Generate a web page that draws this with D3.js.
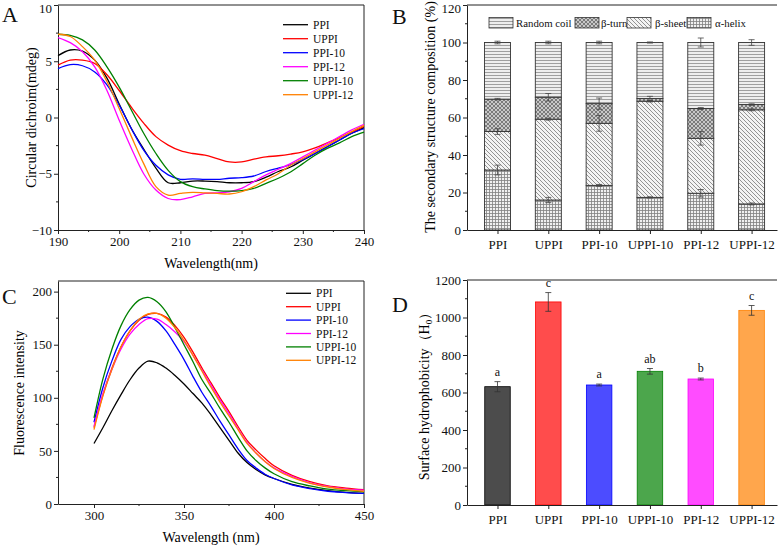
<!DOCTYPE html>
<html>
<head>
<meta charset="utf-8">
<style>
  body { margin: 0; background: #fff; }
  svg { display: block; }
  svg text { font-family: "Liberation Serif", "Times New Roman", "DejaVu Serif", serif; }
  .axis path, .axis line { stroke: #222; }
  .axis text { font-size: 13px; fill: #111; }
</style>
</head>
<body>
<div id="fig"></div>
<script src="https://d3js.org/d3.v7.min.js"></script>
<script>
// ---------- data ----------
const samples = ["PPI", "UPPI", "PPI-10", "PPI-12", "UPPI-10", "UPPI-12"];
const lineColors = ["#000000", "#ff0000", "#0000ff", "#ff00ff", "#008000", "#ff8000"];

// A: circular dichroism
const cdWave = [190, 192, 194, 196, 198, 200, 202, 204, 206, 208, 210, 212, 214, 216, 218, 220, 222, 224, 226, 228, 230, 232, 234, 236, 238, 240];
const cdPPI    = [5.5, 6.0, 5.9, 5.1, 3.5, 1.2, -1.0, -2.8, -4.5, -5.8, -5.8, -5.65, -5.65, -5.7, -5.8, -5.8, -5.7, -5.3, -4.8, -4.4, -3.8, -3.2, -2.6, -2.0, -1.4, -0.9];
const cdUPPI   = [4.65, 5.1, 5.1, 4.8, 3.8, 2.4, 0.9, -0.5, -1.7, -2.45, -2.95, -3.2, -3.35, -3.65, -3.95, -3.95, -3.7, -3.5, -3.4, -3.25, -3.05, -2.7, -2.25, -1.8, -1.3, -0.8];
const cdPPI10  = [4.35, 4.7, 4.6, 4.05, 2.9, 1.1, -1.0, -2.9, -4.25, -5.1, -5.5, -5.45, -5.5, -5.5, -5.4, -5.35, -5.2, -4.8, -4.5, -4.2, -3.75, -3.2, -2.6, -2.0, -1.4, -1.0];
const cdPPI12  = [7.1, 6.65, 5.85, 4.5, 2.4, -0.25, -2.75, -5.0, -6.45, -7.2, -7.3, -7.05, -6.75, -6.7, -6.6, -6.3, -5.7, -5.1, -4.6, -4.1, -3.5, -2.9, -2.3, -1.7, -1.1, -0.6];
const cdUPPI10 = [7.4, 7.3, 6.9, 6.0, 4.5, 2.7, 0.65, -1.4, -3.2, -4.7, -5.7, -6.15, -6.35, -6.5, -6.55, -6.5, -6.3, -5.85, -5.4, -4.85, -4.1, -3.35, -2.75, -2.25, -1.7, -1.3];
const cdUPPI12 = [7.4, 7.2, 6.3, 5.1, 3.2, 0.8, -1.7, -4.1, -6.15, -6.9, -6.75, -6.65, -6.7, -6.75, -6.8, -6.6, -6.15, -5.55, -5.0, -4.25, -3.65, -3.05, -2.45, -1.85, -1.25, -0.7];
const cdSeries = [cdPPI, cdUPPI, cdPPI10, cdPPI12, cdUPPI10, cdUPPI12];

// B: secondary structure (%), stacked bottom -> top
const barSamples = ["PPI", "UPPI", "PPI-10", "UPPI-10", "PPI-12", "UPPI-12"];
const structKeys = ["α-helix", "β-sheet", "β-turn", "Random coil"];
const alphaHelix  = [32.0, 16.0, 23.8, 17.4, 19.6, 13.9];
const betaSheet   = [20.5, 43.1, 33.1, 51.3, 29.3, 50.2];
const betaTurn    = [17.3, 11.7, 10.5, 1.4, 15.9, 2.8];
const randomCoil  = [30.2, 29.2, 32.6, 29.9, 35.2, 33.1];
const errHelix = [2.6, 1.4, 0.5, 0.3, 2.0, 0.5];
const errSheet = [1.5, 0.5, 4.2, 0.4, 3.6, 0.5];
const errTurn  = [0.4, 2.0, 3.0, 1.2, 0.5, 0.4];
const errCoil  = [0.7, 0.7, 0.7, 0.3, 2.4, 1.5];

// C: fluorescence
const flWave = [300, 305, 310, 315, 320, 325, 330, 335, 340, 345, 350, 355, 360, 365, 370, 375, 380, 385, 390, 395, 400, 410, 420, 430, 440, 450];
const flPPI    = [57, 72, 88, 103, 117, 128, 134.5, 133, 128, 121, 113, 104, 95, 84, 72, 60, 48, 39, 32.5, 27.5, 24, 18.5, 15, 12.6, 11, 10];
const flUPPI   = [72, 103, 128, 148, 163, 173, 178.5, 179.5, 176, 168, 157, 143, 128, 114, 100, 87, 73, 60, 51, 43, 36, 27, 21, 17, 15, 13.5];
const flPPI10  = [77, 110, 135, 155, 167, 174, 176, 172, 163, 150, 136, 120, 105, 92, 78, 65, 52, 41, 34, 28, 24, 18, 14.5, 12, 10.8, 10];
const flPPI12  = [73, 104, 127, 146, 160, 169, 174.5, 174, 169, 162, 153, 140, 126, 112, 98, 85, 71, 58, 48, 40, 34, 26, 20, 16.5, 14, 13];
const flUPPI10 = [81, 118, 146, 168, 183, 192, 194.5, 190.5, 181, 166, 150, 134, 117, 104, 90, 77, 63, 50, 41, 34, 28.5, 21, 17, 14, 12.5, 11.5];
const flUPPI12 = [70, 102, 127, 148, 163, 174, 179, 179.5, 175, 166, 154, 140, 125, 110, 96, 83, 70, 57, 48, 40, 33.5, 25, 19.5, 16, 13.5, 12];
const flSeries = [flPPI, flUPPI, flPPI10, flPPI12, flUPPI10, flUPPI12];

// D: surface hydrophobicity
const h0Values = [631, 1083, 640, 713, 672, 1038];
const h0Errors = [27, 50, 5, 15, 5, 26];
const h0Letters = ["a", "c", "a", "ab", "b", "c"];
const h0Colors = ["#000000", "#ff0000", "#0000ff", "#008000", "#ff00ff", "#ff8000"];

// ---------- svg ----------
const W = 779, H = 548;
const FONT = "Liberation Serif, Times New Roman, serif";
const svg = d3.select("#fig").append("svg").attr("width", W).attr("height", H);
const defs = svg.append("defs");

function styleAxis(g) {
  g.attr("font-family", FONT).attr("font-size", 13);
}

// the top tick label sits on the figure edge; nudge it so it stays inside
function nudgeTop(g, topValue) {
  g.selectAll(".tick").filter(d => d === topValue).select("text").attr("dy", "0.55em");
}

function minorTicks(g, scale, values, orient, len) {
  values.forEach(v => {
    const p = scale(v);
    if (orient === "bottom") g.append("line").attr("x1", p).attr("x2", p).attr("y1", 0).attr("y2", len);
    else g.append("line").attr("y1", p).attr("y2", p).attr("x1", 0).attr("x2", -len);
  });
  g.selectAll("line").attr("stroke", "#222");
}

function frame(x0, x1, y0, y1, right) {
  const g = svg.append("g").attr("fill", "none").attr("stroke", "#222").attr("stroke-width", 1);
  g.append("line").attr("x1", x0).attr("x2", x1).attr("y1", y0).attr("y2", y0);
  if (right) g.append("line").attr("x1", x1).attr("x2", x1).attr("y1", y0).attr("y2", y1);
}

function panelLetter(t, x, y) {
  svg.append("text").attr("x", x).attr("y", y).attr("font-size", 22).attr("fill", "#111").text(t);
}

function lineLegend(x, y0, step) {
  const g = svg.append("g");
  samples.forEach((s, i) => {
    const y = y0 + i * step;
    g.append("line").attr("x1", x).attr("x2", x + 25).attr("y1", y).attr("y2", y)
      .attr("stroke", lineColors[i]).attr("stroke-width", 1.3);
    g.append("text").attr("x", x + 30).attr("y", y + 4).attr("font-size", 11.5).attr("fill", "#111").text(s);
  });
}

// ---------- Panel A ----------
{
  const x = d3.scaleLinear().domain([190, 240]).range([58, 364]);
  const y = d3.scaleLinear().domain([-10, 10]).range([230, 5]);
  const gx = svg.append("g").attr("class", "axis").attr("transform", "translate(0,230)")
    .call(d3.axisBottom(x).tickValues([190, 200, 210, 220, 230, 240]).tickSize(4).tickPadding(3).tickSizeOuter(0))
    .call(styleAxis);
  minorTicks(gx.append("g"), x, [195, 205, 215, 225, 235], "bottom", 2);
  const gy = svg.append("g").attr("class", "axis").attr("transform", "translate(58,0)")
    .call(d3.axisLeft(y).tickValues([-10, -5, 0, 5, 10]).tickSize(4).tickPadding(2).tickSizeOuter(0))
    .call(styleAxis);
  nudgeTop(gy, 10);
  minorTicks(gy.append("g"), y, [-7.5, -2.5, 2.5, 7.5], "left", 2);
  frame(58, 364, 5, 230, true);

  const line = d3.line().x((d, i) => x(cdWave[i])).y(d => y(d)).curve(d3.curveCatmullRom);
  cdSeries.forEach((s, k) => {
    svg.append("path").datum(s).attr("d", line).attr("fill", "none")
      .attr("stroke", lineColors[k]).attr("stroke-width", 1.3);
  });
  lineLegend(283, 24.7, 14);
  svg.append("text").attr("x", 211).attr("y", 268).attr("text-anchor", "middle").attr("font-size", 14).text("Wavelength(nm)");
  svg.append("text").attr("transform", "translate(36,117.5) rotate(-90)").attr("text-anchor", "middle")
    .attr("font-size", 14).text("Circular dichroim(mdeg)");
  panelLetter("A", 2, 22);
}

// ---------- patterns for B ----------
function pattern(id, size, bg, draw) {
  const p = defs.append("pattern").attr("id", id).attr("patternUnits", "userSpaceOnUse")
    .attr("width", size).attr("height", size);
  p.append("rect").attr("width", size).attr("height", size).attr("fill", bg);
  draw(p);
}
pattern("pCoil", 3, "#eeeeee", p => p.append("line").attr("x1", 0).attr("x2", 3).attr("y1", 0.5).attr("y2", 0.5)
  .attr("stroke", "#8a8a8a").attr("stroke-width", 0.8));
pattern("pTurn", 4, "#c8c8c8", p => {
  p.append("path").attr("d", "M0,0L4,4M4,0L0,4M-1,1L1,-1M3,5L5,3M-1,3L1,5M3,-1L5,1").attr("stroke", "#5a5a5a").attr("stroke-width", 0.7);
});
pattern("pSheet", 4, "#f4f4f4", p => {
  p.append("path").attr("d", "M0,0L4,4M-1,3L1,5M3,-1L5,1").attr("stroke", "#7a7a7a").attr("stroke-width", 0.8);
});
pattern("pHelix", 3, "#f0f0f0", p => {
  p.append("path").attr("d", "M0,0.5H3M0.5,0V3").attr("stroke", "#808080").attr("stroke-width", 0.8);
});
const structFills = ["url(#pHelix)", "url(#pSheet)", "url(#pTurn)", "url(#pCoil)"];

// ---------- Panel B ----------
{
  const x = d3.scaleLinear().domain([0.4, 6.5]).range([467, 777]);
  const y = d3.scaleLinear().domain([0, 120]).range([230, 5]);
  const rows = barSamples.map((s, i) => ({
    sample: s, idx: i + 1,
    "α-helix": alphaHelix[i], "β-sheet": betaSheet[i], "β-turn": betaTurn[i], "Random coil": randomCoil[i]
  }));
  const errs = [errHelix, errSheet, errTurn, errCoil];
  const stacked = d3.stack().keys(structKeys)(rows);
  const bw = 26;

  stacked.forEach((layer, k) => {
    svg.append("g").selectAll("rect").data(layer).enter().append("rect")
      .attr("x", d => x(d.data.idx) - bw / 2).attr("width", bw)
      .attr("y", d => y(d[1])).attr("height", d => y(d[0]) - y(d[1]))
      .attr("fill", structFills[k]).attr("stroke", "#333").attr("stroke-width", 0.9);
  });
  stacked.forEach((layer, k) => {
    const g = svg.append("g").attr("stroke", "#444").attr("stroke-width", 0.8);
    layer.forEach((d, i) => {
      const cx = x(d.data.idx), e = errs[k][i];
      g.append("line").attr("x1", cx).attr("x2", cx).attr("y1", y(d[1] + e)).attr("y2", y(d[1] - e));
      g.append("line").attr("x1", cx - 3).attr("x2", cx + 3).attr("y1", y(d[1] + e)).attr("y2", y(d[1] + e));
      g.append("line").attr("x1", cx - 3).attr("x2", cx + 3).attr("y1", y(d[1] - e)).attr("y2", y(d[1] - e));
    });
  });

  svg.append("g").attr("class", "axis").attr("transform", "translate(0,230)")
    .call(d3.axisBottom(x).tickValues([1, 2, 3, 4, 5, 6]).tickFormat(d => barSamples[d - 1])
      .tickSize(4).tickPadding(6).tickSizeOuter(0))
    .call(styleAxis);
  const gy = svg.append("g").attr("class", "axis").attr("transform", "translate(467,0)")
    .call(d3.axisLeft(y).tickValues([0, 20, 40, 60, 80, 100, 120]).tickSize(4).tickPadding(2).tickSizeOuter(0))
    .call(styleAxis);
  nudgeTop(gy, 120);
  minorTicks(gy.append("g"), y, [10, 30, 50, 70, 90, 110], "left", 2);
  frame(467, 777, 5, 230, false);

  // legend
  const leg = [
    { t: "Random coil", f: "url(#pCoil)", bx: 489, tx: 516 },
    { t: "β-turn", f: "url(#pTurn)", bx: 575, tx: 601 },
    { t: "β-sheet", f: "url(#pSheet)", bx: 627, tx: 655 },
    { t: "α-helix", f: "url(#pHelix)", bx: 687, tx: 715 }
  ];
  leg.forEach(l => {
    svg.append("rect").attr("x", l.bx).attr("y", 17.5).attr("width", 24).attr("height", 10.5)
      .attr("fill", l.f).attr("stroke", "#333").attr("stroke-width", 0.8);
    svg.append("text").attr("x", l.tx).attr("y", 26.5).attr("font-size", 10.8).attr("fill", "#111").text(l.t);
  });

  svg.append("text").attr("transform", "translate(435,117) rotate(-90)").attr("text-anchor", "middle")
    .attr("font-size", 14).text("The secondary structure composition (%)");
  panelLetter("B", 392, 24);
}

// ---------- Panel C ----------
{
  const x = d3.scaleLinear().domain([280, 450]).range([58, 364]);
  const y = d3.scaleLinear().domain([0, 210]).range([504, 281]);
  const gx = svg.append("g").attr("class", "axis").attr("transform", "translate(0,504)")
    .call(d3.axisBottom(x).tickValues([300, 350, 400, 450]).tickSize(4).tickPadding(3).tickSizeOuter(0))
    .call(styleAxis);
  minorTicks(gx.append("g"), x, [325, 375, 425], "bottom", 2);
  const gy = svg.append("g").attr("class", "axis").attr("transform", "translate(58,0)")
    .call(d3.axisLeft(y).tickValues([0, 50, 100, 150, 200]).tickSize(4).tickPadding(2).tickSizeOuter(0))
    .call(styleAxis);
  minorTicks(gy.append("g"), y, [25, 75, 125, 175], "left", 2);
  frame(58, 364, 281, 504, true);

  const line = d3.line().x((d, i) => x(flWave[i])).y(d => y(d)).curve(d3.curveCatmullRom);
  flSeries.forEach((s, k) => {
    svg.append("path").datum(s).attr("d", line).attr("fill", "none")
      .attr("stroke", lineColors[k]).attr("stroke-width", 1.3);
  });
  lineLegend(286, 293.3, 13.4);
  svg.append("text").attr("x", 211).attr("y", 542).attr("text-anchor", "middle").attr("font-size", 14).text("Wavelength (nm)");
  svg.append("text").attr("transform", "translate(24,393) rotate(-90)").attr("text-anchor", "middle")
    .attr("font-size", 14).text("Fluorescence intensity");
  panelLetter("C", 2, 304);
}

// ---------- Panel D ----------
{
  const x = d3.scaleLinear().domain([0.4, 6.5]).range([467, 777]);
  const y = d3.scaleLinear().domain([0, 1200]).range([505, 280]);
  const bw = 25.5;
  const rows = barSamples.map((s, i) => ({ idx: i + 1, v: h0Values[i], e: h0Errors[i], l: h0Letters[i], c: h0Colors[i] }));

  svg.append("g").selectAll("rect").data(rows).enter().append("rect")
    .attr("x", d => x(d.idx) - bw / 2).attr("width", bw)
    .attr("y", d => y(d.v)).attr("height", d => y(0) - y(d.v))
    .attr("fill", d => d.c).attr("fill-opacity", 0.7)
    .attr("stroke", d => d.c).attr("stroke-width", 0.8);

  const eg = svg.append("g").attr("stroke", "#333").attr("stroke-width", 0.8);
  rows.forEach(d => {
    const cx = x(d.idx);
    eg.append("line").attr("x1", cx).attr("x2", cx).attr("y1", y(d.v + d.e)).attr("y2", y(d.v - d.e));
    eg.append("line").attr("x1", cx - 3).attr("x2", cx + 3).attr("y1", y(d.v + d.e)).attr("y2", y(d.v + d.e));
    eg.append("line").attr("x1", cx - 3).attr("x2", cx + 3).attr("y1", y(d.v - d.e)).attr("y2", y(d.v - d.e));
  });
  svg.append("g").selectAll("text").data(rows).enter().append("text")
    .attr("x", d => x(d.idx)).attr("y", d => y(d.v + d.e) - 6)
    .attr("text-anchor", "middle").attr("font-size", 12).attr("fill", "#111").text(d => d.l);

  svg.append("g").attr("class", "axis").attr("transform", "translate(0,505)")
    .call(d3.axisBottom(x).tickValues([1, 2, 3, 4, 5, 6]).tickFormat(d => barSamples[d - 1])
      .tickSize(4).tickPadding(6).tickSizeOuter(0))
    .call(styleAxis);
  const gy = svg.append("g").attr("class", "axis").attr("transform", "translate(467,0)")
    .call(d3.axisLeft(y).tickValues([0, 200, 400, 600, 800, 1000, 1200]).tickFormat(d3.format("d"))
      .tickSize(4).tickPadding(2).tickSizeOuter(0))
    .call(styleAxis);
  minorTicks(gy.append("g"), y, [100, 300, 500, 700, 900, 1100], "left", 2);
  frame(467, 777, 280, 505, false);

  const t = svg.append("text").attr("transform", "translate(429,393) rotate(-90)").attr("text-anchor", "middle")
    .attr("font-size", 14);
  t.append("tspan").text("Surface hydrophobicity（H");
  t.append("tspan").attr("font-size", 9).attr("dy", 3).text("0");
  t.append("tspan").attr("dy", -3).text("）");
  panelLetter("D", 392, 312);
}
</script>
</body>
</html>
